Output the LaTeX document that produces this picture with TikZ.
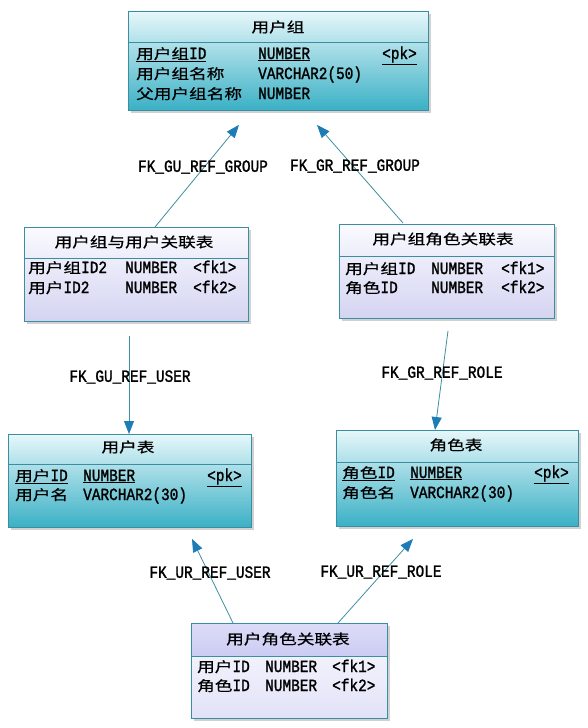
\documentclass[tikz,border=0pt]{standalone}
\usepackage{fontspec}
\usetikzlibrary{arrows.meta,shadows}
\newfontfamily\cjkf[FakeBold=0.6]{Noto Sans CJK SC}
\newfontfamily\monof[FakeBold=1.6]{Liberation Mono}
\newcommand\myC[1]{\scalebox{1.26}[1]{\fontsize{14pt}{16pt}\selectfont\cjkf #1}}
\newcommand\myL[1]{\scalebox{1.03}[1.22]{\fontsize{14pt}{16pt}\selectfont\monof #1}}
\definecolor{bordc}{HTML}{3A8EA2}
\definecolor{cyT}{HTML}{E6F7FA}
\definecolor{cyB}{HTML}{3AB0C5}
\definecolor{lvT}{HTML}{FAFAFF}
\definecolor{lvB}{HTML}{D4D4F2}
\definecolor{lvHT}{HTML}{DCDCF8}
\definecolor{lvHB}{HTML}{CCCCF3}
\definecolor{lvBB}{HTML}{E2E2F8}
\definecolor{linec}{HTML}{3F8F9F}
\definecolor{tipc}{HTML}{1C7DB6}
\tikzset{
  tbl/.style={draw=bordc, line width=0.9pt, anchor=north west, inner sep=0pt,
    drop shadow={shadow xshift=3pt, shadow yshift=-3pt, fill=black, opacity=0.18}},
  cyanbox/.style={tbl, top color=cyT, bottom color=cyB},
  lavbox/.style={tbl, top color=lvT, bottom color=lvB},
  sepline/.style={draw=bordc, line width=0.9pt},
  ttl/.style={inner sep=0pt, anchor=center},
  cell/.style={inner sep=0pt, anchor=base west},
  fkline/.style={draw=linec, line width=0.8pt, -{Triangle[length=13pt,width=10pt,color=tipc]}},
  fklabel/.style={inner sep=0pt, anchor=center}
}
\begin{document}
\begin{tikzpicture}[x=1pt,y=-1pt]
\fill[white] (0,0) rectangle (588,728);
\useasboundingbox (0,0) rectangle (588,728);

% ---- boxes ----
\node[cyanbox, minimum width=300pt, minimum height=99pt] (b1) at (128,11) {};
\node[lavbox, minimum width=224pt, minimum height=94pt] (b2) at (24,227) {};
\node[lavbox, minimum width=215pt, minimum height=94pt] (b3) at (339,224) {};
\node[cyanbox, minimum width=243pt, minimum height=93pt] (b4) at (8,434) {};
\node[cyanbox, minimum width=242pt, minimum height=96pt] (b5) at (336,430) {};
\node[tbl, top color=lvT, bottom color=lvBB, minimum width=196pt, minimum height=95pt] (b6) at (191,623) {};
\shade[top color=lvHT, bottom color=lvHB] (191,623) rectangle (387,656);
\draw[sepline] (b6.north west) rectangle (b6.south east);

% header separators
\draw[sepline] (128,42) -- (428,42);
\draw[sepline] (24,258) -- (248,258);
\draw[sepline] (339,256) -- (554,256);
\draw[sepline] (8,464) -- (251,464);
\draw[sepline] (336,462) -- (578,462);
\draw[sepline] (191,656) -- (387,656);

% ---- 用户组 ----
\node[ttl] (t1) at (278,27) {\myC{用户组}};
\node[cell] (c11) at (136,59) {\underline{\myC{用户组}\myL{ID}}};
\node[cell] (c12) at (258,59) {\underline{\myL{NUMBER}}};
\node[cell] (c13) at (382,59) {\underline{\myL{<pk>}}};
\node[cell] (c21) at (136,79) {\myC{用户组名称}};
\node[cell] (c22) at (258,79) {\myL{VARCHAR2(50)}};
\node[cell] (c31) at (136,99) {\myC{父用户组名称}};
\node[cell] (c32) at (258,99) {\myL{NUMBER}};

% ---- 用户组与用户关联表 ----
\node[ttl] (t2) at (134,242) {\myC{用户组与用户关联表}};
\node[cell] (d11) at (28,273) {\myC{用户组}\myL{ID2}};
\node[cell] (d12) at (125,273) {\myL{NUMBER}};
\node[cell] (d13) at (193,273) {\myL{<fk1>}};
\node[cell] (d21) at (28,293) {\myC{用户}\myL{ID2}};
\node[cell] (d22) at (125,293) {\myL{NUMBER}};
\node[cell] (d23) at (193,293) {\myL{<fk2>}};

% ---- 用户组角色关联表 ----
\node[ttl] (t3) at (443,239) {\myC{用户组角色关联表}};
\node[cell] (e11) at (345,274) {\myC{用户组}\myL{ID}};
\node[cell] (e12) at (431,274) {\myL{NUMBER}};
\node[cell] (e13) at (501,274) {\myL{<fk1>}};
\node[cell] (e21) at (345,293) {\myC{角色}\myL{ID}};
\node[cell] (e22) at (431,293) {\myL{NUMBER}};
\node[cell] (e23) at (501,293) {\myL{<fk2>}};

% ---- 用户表 ----
\node[ttl] (t4) at (128,447) {\myC{用户表}};
\node[cell] (f11) at (15,481) {\underline{\myC{用户}\myL{ID}}};
\node[cell] (f12) at (83,481) {\underline{\myL{NUMBER}}};
\node[cell] (f13) at (207,481) {\underline{\myL{<pk>}}};
\node[cell] (f21) at (15,500) {\myC{用户名}};
\node[cell] (f22) at (83,500) {\myL{VARCHAR2(30)}};

% ---- 角色表 ----
\node[ttl] (t5) at (456,445) {\myC{角色表}};
\node[cell] (g11) at (342,478) {\underline{\myC{角色}\myL{ID}}};
\node[cell] (g12) at (410,478) {\underline{\myL{NUMBER}}};
\node[cell] (g13) at (534,478) {\underline{\myL{<pk>}}};
\node[cell] (g21) at (342,498) {\myC{角色名}};
\node[cell] (g22) at (410,498) {\myL{VARCHAR2(30)}};

% ---- 用户角色关联表 ----
\node[ttl] (t6) at (288,639) {\myC{用户角色关联表}};
\node[cell] (h11) at (197,672) {\myC{用户}\myL{ID}};
\node[cell] (h12) at (265,672) {\myL{NUMBER}};
\node[cell] (h13) at (332,672) {\myL{<fk1>}};
\node[cell] (h21) at (197,691) {\myC{角色}\myL{ID}};
\node[cell] (h22) at (265,691) {\myL{NUMBER}};
\node[cell] (h23) at (332,691) {\myL{<fk2>}};

% ---- connectors ----
\draw[fkline] ([xshift=131pt]b2.north west) -- ([xshift=111pt,yshift=-14pt]b1.south west);
\draw[fkline] ([xshift=64pt,yshift=1pt]b3.north west) -- ([xshift=189pt,yshift=-14pt]b1.south west);
\draw[fkline] ([xshift=105pt,yshift=-14pt]b2.south west) -- ([xshift=121pt]b4.north west);
\draw[fkline] ([xshift=109pt,yshift=-12pt]b3.south west) -- ([xshift=99pt]b5.north west);
\draw[fkline] ([xshift=42pt]b6.north west) -- ([xshift=184pt,yshift=-11pt]b4.south west);
\draw[fkline] ([xshift=147pt]b6.north west) -- ([xshift=77pt,yshift=-12pt]b5.south west);

% ---- connector labels ----
\node[fklabel] (l1) at (203,167) {\myL{FK\_GU\_REF\_GROUP}};
\node[fklabel] (l2) at (355,166) {\myL{FK\_GR\_REF\_GROUP}};
\node[fklabel] (l3) at (130,377) {\myL{FK\_GU\_REF\_USER}};
\node[fklabel] (l4) at (442,373) {\myL{FK\_GR\_REF\_ROLE}};
\node[fklabel] (l5) at (210,573) {\myL{FK\_UR\_REF\_USER}};
\node[fklabel] (l6) at (381,572) {\myL{FK\_UR\_REF\_ROLE}};
\end{tikzpicture}
\end{document}
